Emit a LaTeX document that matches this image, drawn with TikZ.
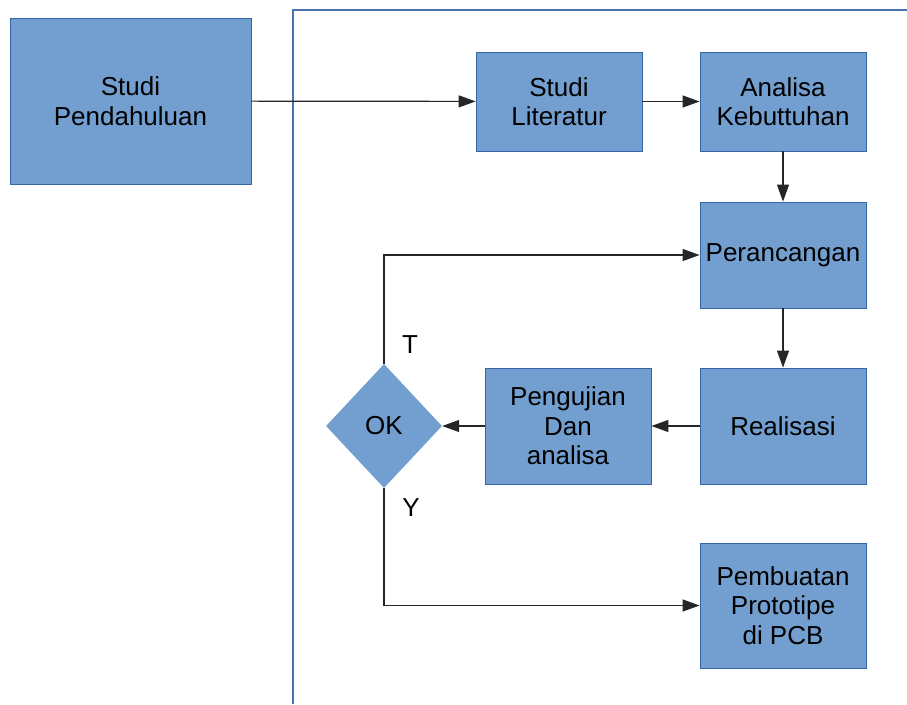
\documentclass[tikz,border=0pt]{standalone}
\usepackage{fontspec}
\setmainfont{Liberation Sans}
\usetikzlibrary{shapes.geometric,arrows.meta}
\definecolor{mfill}{HTML}{729FCF}
\definecolor{mline}{HTML}{3465A4}
\definecolor{mframe}{HTML}{4A74B0}
\begin{document}
\begin{tikzpicture}[x=1pt,y=-1pt,font=\fontsize{26}{29.5}\selectfont,
    mbox/.style={draw=mline,fill=mfill,line width=0.8pt,align=center,inner sep=0pt,minimum width=166pt},
    mok/.style={diamond,fill=mfill,inner sep=0pt,minimum width=116pt,minimum height=124pt},
    arrow/.style={-{Triangle[length=17pt,width=12pt]},line width=1.2pt,draw=black!85}]
    \useasboundingbox (0,0) rectangle (907,704);
    \draw[mframe,line width=1.2pt] (293,704)--(293,10)--(907,10); %khung
    \node[mbox,minimum width=241pt,minimum height=166pt] (sp) at (130.5,101) {Studi\\Pendahuluan};
    \node[mbox,minimum height=99pt] (sl) at (559,101.5) {Studi\\Literatur};
    \node[mbox,minimum height=99pt] (ak) at (783,101.5) {Analisa\\Kebuttuhan};
    \node[mbox,minimum height=106pt] (pr) at (783,255) {Perancangan};
    \node[mbox,minimum height=116pt] (re) at (783,426) {Realisasi};
    \node[mbox,minimum height=116pt] (pa) at (568,426) {Pengujian\\Dan\\analisa};
    \node[mok] (ok) at (384,426) {OK};
    \node[mbox,minimum height=125pt] (pp) at (783,605.5) {Pembuatan\\Prototipe\\di PCB};
    \node (t) at (410,345) {T};
    \node (y) at (411,508) {Y};
    \draw[arrow] (sp)--(sl);
    \draw[arrow] (sl)--(ak);
    \draw[arrow] (ak)--(pr);
    \draw[arrow] (pr)--(re);
    \draw[arrow] (re)--(pa);
    \draw[arrow] (pa)--(ok);
    \draw[arrow] (ok.north)|-(pr.west);
    \draw[arrow] (ok.south)|-(pp.west);
\end{tikzpicture}
\end{document}
